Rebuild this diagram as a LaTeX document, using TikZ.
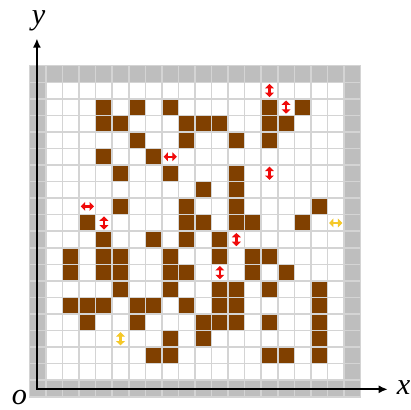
\documentclass[tikz,border=0pt]{standalone}
\usepackage{fontspec}
\setmainfont{Liberation Serif}
\usetikzlibrary{arrows.meta}
\definecolor{cellgray}{RGB}{190,190,190}
\definecolor{gridgray}{RGB}{212,212,212}
\definecolor{brownobs}{RGB}{128,64,0}
\definecolor{redarr}{RGB}{240,10,10}
\definecolor{yelarr}{RGB}{245,200,40}
\begin{document}
\begin{tikzpicture}[x=0.5cm,y=0.5cm,
  obstacle/.style={fill=brownobs},
  gridline/.style={draw=gridgray,line width=1.3pt},
  axisline/.style={line width=1.8pt,{Latex[length=8pt,width=7pt]}-{Latex[length=8pt,width=7pt]}},
  dirarrow/.style={line width=2pt,{Triangle[length=3.8pt,width=7.5pt]}-{Triangle[length=3.8pt,width=7.5pt]}},
  axislabel/.style={font=\fontsize{26}{28}\selectfont\itshape, inner sep=0pt}]
\useasboundingbox (-1.78,-0.79) rectangle (23.05,23.97);
% border and free area
\fill[cellgray] (0,0) rectangle (20,20);
\fill[white] (1,1) rectangle (19,19);
% obstacles: row (from top) / columns (from left)
\foreach \r/\cs in {
  2/{4,6,8,14,16},
  3/{4,5,9,10,11,14,15},
  4/{6,9,12,14},
  5/{4,7},
  6/{5,8,12},
  7/{10,12},
  8/{5,9,12,17},
  9/{3,9,10,12,13,16},
  10/{4,7,9,11},
  11/{2,4,5,8,11,13,14},
  12/{2,4,5,8,9,13,15},
  13/{5,8,11,12,14,17},
  14/{2,3,4,6,7,9,11,12,17},
  15/{3,6,10,11,12,14,17},
  16/{8,10,17},
  17/{7,8,14,15,17}}{
  \foreach \c in \cs {\fill[obstacle] (\c,19-\r) rectangle ++(1,1);}
}
% grid
\draw[gridline] (0,0) grid[step=0.5cm] (20,20);
% direction markers
\foreach \c/\r in {8/5,3/8}
  \draw[dirarrow,redarr] (\c+0.1,19.5-\r) -- (\c+0.9,19.5-\r);
\foreach \c/\r in {14/1,15/2,14/6,4/9,12/10,11/12}
  \draw[dirarrow,redarr] (\c+0.5,19.9-\r) -- (\c+0.5,19.1-\r);
\foreach \c/\r in {18/9}
  \draw[dirarrow,yelarr] (\c+0.1,19.5-\r) -- (\c+0.9,19.5-\r);
\foreach \c/\r in {5/16}
  \draw[dirarrow,yelarr] (\c+0.5,19.9-\r) -- (\c+0.5,19.1-\r);
% axes
\coordinate (O) at (0.45,0.45);
\coordinate (X) at (21.65,0.45);
\coordinate (Y) at (0.45,21.65);
\draw[axisline] (Y) -- (O) -- (X);
\node[axislabel] (xl) at (22.6,0.55) {x};
\node[axislabel] (yl) at (0.55,22.7) {y};
\node[axislabel] (ol) at (-0.6,-0.05) {o};
\end{tikzpicture}
\end{document}
